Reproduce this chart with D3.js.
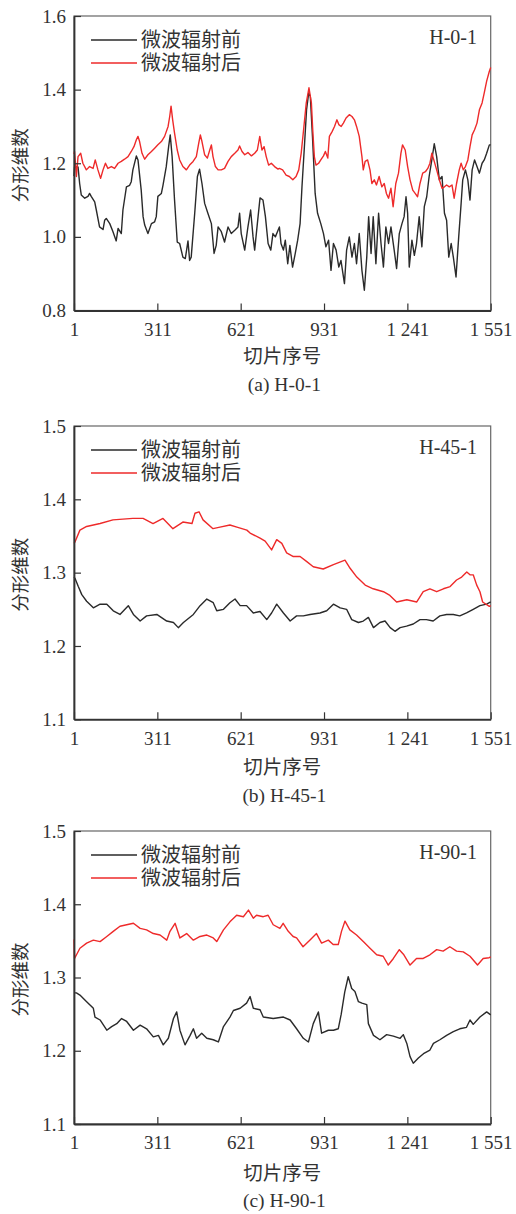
<!DOCTYPE html>
<html><head><meta charset="utf-8">
<script src="https://cdn.jsdelivr.net/npm/d3@7"></script>
<style>
html,body{margin:0;padding:0;background:#fff;}
svg{display:block;}
</style></head>
<body>
<svg id="chart" width="516" height="1214"></svg>
<script>
// ---------- data ----------
const seriesNames = ["微波辐射前", "微波辐射后"];
const xTickValues = [1, 311, 621, 931, 1241, 1551];
const xTickLabels = ["1", "311", "621", "931", "1 241", "1 551"];
const yTicksA = [0.8, 1.0, 1.2, 1.4, 1.6];
const yTicksBC = [1.1, 1.2, 1.3, 1.4, 1.5];
const panelLabels = ["H-0-1", "H-45-1", "H-90-1"];
const captions = ["(a) H-0-1", "(b) H-45-1", "(c) H-90-1"];

const h0Before = [[1,1.165],[3,1.19],[16,1.19],[22,1.145],[28,1.114],[41,1.105],[53,1.11],[59,1.118],[65,1.11],[78,1.095],[84,1.073],[96,1.027],[109,1.02],[115,1.045],[121,1.05],[134,1.036],[146,1.014],[158,0.989],[165,1.023],[177,1.009],[183,1.073],[196,1.136],[208,1.14],[214,1.15],[220,1.182],[233,1.22],[239,1.209],[251,1.127],[258,1.055],[264,1.032],[276,1.009],[289,1.036],[301,1.041],[307,1.055],[313,1.11],[326,1.118],[332,1.14],[344,1.19],[353,1.245],[359,1.277],[366,1.218],[375,1.1],[385,0.986],[394,0.982],[406,0.945],[415,0.941],[425,0.989],[431,0.936],[437,0.945],[450,1.064],[460,1.164],[468,1.184],[477,1.145],[487,1.091],[499,1.064],[512,1.036],[522,0.955],[530,0.977],[537,1.027],[549,1.014],[561,0.986],[574,1.027],[586,1.009],[599,1.018],[611,1.027],[617,1.064],[623,1.009],[636,0.964],[648,1.027],[658,1.073],[667,1.0],[673,0.964],[683,1.036],[693,1.106],[704,1.1],[713,1.055],[723,0.982],[733,0.964],[741,1.009],[750,1.0],[760,1.018],[765,1.027],[771,0.982],[780,0.964],[787,0.991],[796,0.927],[804,0.977],[814,0.918],[824,0.955],[833,0.991],[842,1.036],[849,1.136],[858,1.245],[866,1.345],[874,1.391],[880,1.382],[888,1.273],[898,1.118],[907,1.064],[919,1.036],[929,1.009],[938,0.973],[948,0.991],[957,0.909],[966,0.982],[976,0.964],[986,0.918],[994,0.936],[1007,0.873],[1015,0.964],[1025,1.0],[1035,0.945],[1044,0.982],[1052,0.927],[1062,1.009],[1072,0.909],[1081,0.855],[1090,0.945],[1097,1.055],[1106,0.955],[1114,1.055],[1124,0.927],[1134,1.064],[1143,0.982],[1152,0.918],[1161,1.027],[1171,0.982],[1180,1.027],[1192,0.964],[1201,0.914],[1211,1.009],[1221,1.036],[1229,1.055],[1236,1.109],[1242,1.064],[1248,0.918],[1258,0.991],[1267,0.95],[1275,0.982],[1285,1.055],[1295,0.973],[1304,1.082],[1313,1.109],[1322,1.164],[1332,1.209],[1341,1.253],[1350,1.218],[1360,1.155],[1370,1.164],[1379,1.064],[1387,1.045],[1395,0.945],[1404,0.982],[1412,0.945],[1422,0.891],[1432,1.0],[1441,1.091],[1447,1.155],[1457,1.182],[1466,1.155],[1474,1.1],[1482,1.182],[1491,1.209],[1500,1.191],[1509,1.173],[1519,1.2],[1527,1.209],[1536,1.227],[1546,1.25],[1551,1.25]];

const h0After = [[1,1.225],[3,1.232],[10,1.164],[16,1.218],[26,1.227],[34,1.2],[47,1.182],[59,1.191],[72,1.186],[80,1.209],[90,1.182],[100,1.159],[109,1.182],[118,1.2],[127,1.186],[140,1.191],[152,1.186],[165,1.2],[177,1.205],[189,1.211],[202,1.218],[214,1.232],[224,1.245],[233,1.264],[239,1.273],[245,1.259],[254,1.227],[264,1.211],[276,1.223],[289,1.232],[301,1.241],[313,1.25],[326,1.259],[338,1.273],[351,1.3],[357,1.327],[362,1.355],[368,1.318],[375,1.282],[385,1.236],[394,1.209],[406,1.191],[419,1.182],[431,1.195],[444,1.205],[456,1.218],[465,1.255],[471,1.277],[477,1.259],[487,1.223],[497,1.214],[506,1.236],[512,1.25],[518,1.218],[527,1.191],[537,1.182],[549,1.182],[561,1.186],[574,1.205],[586,1.218],[599,1.227],[611,1.236],[617,1.247],[626,1.232],[636,1.223],[648,1.229],[661,1.22],[673,1.227],[683,1.236],[692,1.273],[700,1.236],[708,1.245],[716,1.218],[725,1.195],[735,1.2],[747,1.191],[760,1.184],[765,1.186],[777,1.182],[790,1.168],[802,1.164],[815,1.155],[827,1.164],[837,1.182],[846,1.227],[855,1.291],[865,1.364],[875,1.405],[884,1.364],[889,1.291],[895,1.218],[901,1.195],[911,1.2],[919,1.209],[929,1.22],[936,1.232],[945,1.214],[951,1.273],[961,1.286],[970,1.3],[979,1.318],[986,1.305],[995,1.3],[1003,1.309],[1013,1.323],[1025,1.332],[1035,1.327],[1044,1.318],[1052,1.3],[1062,1.273],[1072,1.218],[1077,1.182],[1084,1.205],[1093,1.209],[1102,1.182],[1109,1.145],[1118,1.155],[1126,1.141],[1136,1.164],[1146,1.136],[1155,1.145],[1163,1.118],[1171,1.105],[1180,1.132],[1188,1.082],[1198,1.145],[1208,1.173],[1217,1.227],[1223,1.25],[1233,1.236],[1242,1.191],[1251,1.155],[1261,1.127],[1270,1.118],[1279,1.109],[1288,1.145],[1298,1.173],[1308,1.177],[1317,1.186],[1325,1.2],[1332,1.227],[1341,1.205],[1350,1.182],[1360,1.155],[1370,1.132],[1379,1.136],[1387,1.141],[1397,1.136],[1407,1.141],[1415,1.105],[1424,1.145],[1434,1.182],[1441,1.2],[1449,1.182],[1457,1.191],[1466,1.209],[1474,1.245],[1482,1.277],[1491,1.291],[1500,1.309],[1509,1.345],[1519,1.364],[1527,1.391],[1536,1.423],[1546,1.45],[1551,1.46]];

const h45Before = [[1,1.294],[5,1.292],[17,1.281],[30,1.27],[48,1.261],[73,1.252],[98,1.257],[123,1.257],[147,1.248],[172,1.243],[203,1.255],[222,1.243],[247,1.234],[271,1.241],[309,1.243],[346,1.234],[371,1.232],[389,1.225],[408,1.232],[445,1.243],[470,1.255],[495,1.264],[519,1.259],[532,1.248],[557,1.25],[581,1.259],[600,1.264],[619,1.255],[643,1.255],[668,1.245],[693,1.247],[718,1.236],[736,1.245],[755,1.257],[780,1.245],[805,1.234],[829,1.241],[854,1.241],[879,1.243],[916,1.245],[941,1.248],[966,1.257],[991,1.252],[1015,1.25],[1034,1.236],[1059,1.232],[1077,1.234],[1096,1.239],[1115,1.225],[1139,1.232],[1158,1.234],[1177,1.225],[1195,1.22],[1214,1.225],[1238,1.227],[1263,1.23],[1288,1.236],[1312,1.236],[1337,1.234],[1362,1.241],[1387,1.243],[1412,1.243],[1436,1.241],[1461,1.245],[1486,1.25],[1511,1.255],[1536,1.257],[1551,1.26]];

const h45After = [[1,1.34],[5,1.342],[23,1.358],[48,1.363],[98,1.367],[146,1.372],[220,1.374],[258,1.374],[295,1.367],[332,1.374],[369,1.36],[406,1.369],[440,1.367],[451,1.381],[466,1.383],[481,1.372],[518,1.36],[544,1.362],[581,1.365],[607,1.362],[644,1.358],[656,1.354],[693,1.347],[712,1.343],[736,1.331],[755,1.345],[774,1.34],[792,1.327],[817,1.322],[842,1.322],[867,1.315],[891,1.308],[928,1.305],[966,1.311],[1009,1.317],[1028,1.306],[1053,1.294],[1084,1.283],[1114,1.278],[1152,1.274],[1176,1.269],[1201,1.26],[1239,1.263],[1276,1.26],[1300,1.274],[1325,1.278],[1350,1.274],[1375,1.278],[1400,1.281],[1424,1.29],[1443,1.294],[1462,1.301],[1474,1.297],[1486,1.297],[1499,1.283],[1511,1.274],[1521,1.26],[1546,1.254],[1551,1.255]];

const h90Before = [[1,1.279],[10,1.279],[23,1.276],[48,1.267],[73,1.258],[79,1.246],[98,1.242],[123,1.228],[141,1.233],[160,1.237],[178,1.244],[197,1.24],[222,1.228],[247,1.235],[271,1.23],[296,1.219],[315,1.221],[333,1.208],[352,1.217],[371,1.244],[383,1.253],[395,1.228],[414,1.208],[433,1.221],[445,1.23],[457,1.217],[476,1.224],[495,1.217],[519,1.215],[538,1.212],[557,1.233],[581,1.246],[594,1.255],[619,1.258],[643,1.265],[656,1.274],[668,1.258],[693,1.256],[705,1.246],[742,1.244],[780,1.246],[805,1.242],[829,1.23],[854,1.217],[873,1.212],[891,1.237],[910,1.253],[922,1.224],[947,1.228],[966,1.228],[984,1.23],[995,1.25],[1008,1.28],[1021,1.301],[1034,1.285],[1046,1.281],[1059,1.267],[1072,1.265],[1090,1.263],[1096,1.237],[1115,1.221],[1139,1.215],[1164,1.222],[1189,1.22],[1214,1.217],[1226,1.222],[1239,1.21],[1251,1.192],[1263,1.183],[1282,1.19],[1301,1.196],[1325,1.201],[1338,1.21],[1362,1.215],[1387,1.221],[1412,1.226],[1436,1.23],[1461,1.232],[1474,1.242],[1486,1.236],[1511,1.246],[1536,1.253],[1551,1.249]];

const h90After = [[1,1.352],[3,1.326],[23,1.34],[48,1.347],[73,1.351],[98,1.349],[123,1.356],[147,1.363],[172,1.37],[197,1.372],[222,1.374],[247,1.367],[271,1.365],[296,1.36],[321,1.358],[346,1.351],[358,1.363],[377,1.374],[395,1.354],[420,1.36],[445,1.351],[470,1.356],[495,1.358],[519,1.354],[532,1.349],[557,1.365],[581,1.376],[606,1.385],[631,1.383],[650,1.392],[668,1.381],[680,1.385],[705,1.383],[723,1.385],[742,1.372],[767,1.367],[779,1.374],[798,1.363],[816,1.356],[829,1.354],[853,1.342],[878,1.351],[903,1.36],[922,1.347],[947,1.351],[965,1.345],[984,1.345],[996,1.363],[1009,1.377],[1027,1.365],[1052,1.358],[1077,1.349],[1102,1.34],[1127,1.331],[1151,1.329],[1170,1.317],[1189,1.326],[1211,1.338],[1228,1.331],[1251,1.317],[1275,1.326],[1300,1.326],[1325,1.331],[1350,1.338],[1374,1.336],[1399,1.342],[1424,1.336],[1449,1.335],[1474,1.329],[1502,1.317],[1523,1.326],[1545,1.327],[1551,1.328]];

// ---------- layout ----------
const colors = ["#2a2a2a", "#ee2a2a"];
const serif = "'Liberation Serif','Times New Roman',serif";
const cjk = "'Noto Sans CJK SC','Noto Sans CJK JP',sans-serif";
const left = 74, right = 490.7;

const panels = [
  {top: 16, bottom: 310.5, yDomain: [0.8, 1.6], yTicks: yTicksA, fmt: d3.format(".1f"), before: h0Before, after: h0After, label: panelLabels[0], caption: captions[0], titleY: 363, captionY: 391, legendY: 40},
  {top: 426, bottom: 719.3, yDomain: [1.1, 1.5], yTicks: yTicksBC, fmt: d3.format(".1f"), before: h45Before, after: h45After, label: panelLabels[1], caption: captions[1], titleY: 774, captionY: 802, legendY: 450},
  {top: 831, bottom: 1124, yDomain: [1.1, 1.5], yTicks: yTicksBC, fmt: d3.format(".1f"), before: h90Before, after: h90After, label: panelLabels[2], caption: captions[2], titleY: 1180, captionY: 1207, legendY: 855}
];

const svg = d3.select("#chart");
const x = d3.scaleLinear().domain([1, 1551]).range([left, right]);

panels.forEach(p => {
  const y = d3.scaleLinear().domain(p.yDomain).range([p.bottom, p.top]);
  const g = svg.append("g");

  // frame
  g.append("rect").attr("x", left).attr("y", p.top)
    .attr("width", right - left).attr("height", p.bottom - p.top)
    .attr("fill", "none").attr("stroke", "#666").attr("stroke-width", 1.2);

  const line = d3.line().x(d => x(d[0])).y(d => y(d[1]));
  g.append("path").datum(p.before).attr("d", line)
    .attr("fill", "none").attr("stroke", colors[0]).attr("stroke-width", 1.4).attr("stroke-linejoin", "round");
  g.append("path").datum(p.after).attr("d", line)
    .attr("fill", "none").attr("stroke", colors[1]).attr("stroke-width", 1.4).attr("stroke-linejoin", "round");

  // y axis
  const ya = g.append("g").attr("transform", `translate(${left},0)`)
    .call(d3.axisLeft(y).tickValues(p.yTicks).tickFormat(p.fmt).tickSizeInner(-7).tickSizeOuter(0).tickPadding(8));
  ya.select(".domain").attr("stroke", "#333").attr("stroke-width", 1.8);
  ya.selectAll(".tick line").attr("stroke", "#333").attr("stroke-width", 1.2);
  ya.selectAll(".tick text").attr("font-family", serif).attr("font-size", 19).attr("fill", "#333");

  // x axis
  const xa = g.append("g").attr("transform", `translate(0,${p.bottom})`)
    .call(d3.axisBottom(x).tickValues(xTickValues).tickFormat((d, i) => xTickLabels[i]).tickSizeInner(-7).tickSizeOuter(0).tickPadding(12));
  xa.select(".domain").attr("stroke", "#333").attr("stroke-width", 1.8);
  xa.selectAll(".tick line").attr("stroke", "#333").attr("stroke-width", 1.2);
  xa.selectAll(".tick text").attr("font-family", serif).attr("font-size", 19).attr("fill", "#333");

  // axis titles
  g.append("text").attr("x", (left + right) / 2).attr("y", p.titleY)
    .attr("text-anchor", "middle").attr("font-family", cjk).attr("font-size", 19.5).attr("fill", "#333")
    .text("切片序号");
  g.append("text").attr("transform", `translate(27,${(p.top + p.bottom) / 2 + 2}) rotate(-90)`)
    .attr("text-anchor", "middle").attr("font-family", cjk).attr("font-size", 18.5).attr("fill", "#333")
    .text("分形维数");
  g.append("text").attr("x", (left + right) / 2 + 2).attr("y", p.captionY)
    .attr("text-anchor", "middle").attr("font-family", serif).attr("font-size", 19.5).attr("fill", "#333")
    .text(p.caption);

  // panel label
  g.append("text").attr("x", 477).attr("y", p.top + 27.5)
    .attr("text-anchor", "end").attr("font-family", serif).attr("font-size", 20).attr("fill", "#333")
    .text(p.label);

  // legend: swatches + one text block with a line per series
  seriesNames.forEach((name, i) => {
    const ly = p.legendY + i * 23;
    g.append("line").attr("x1", 91).attr("x2", 137).attr("y1", ly).attr("y2", ly)
      .attr("stroke", colors[i]).attr("stroke-width", 1.4);
  });
  const lt = g.append("text").attr("font-family", cjk).attr("font-size", 20).attr("fill", "#333");
  seriesNames.forEach((name, i) => {
    lt.append("tspan").attr("x", 141).attr("y", p.legendY + i * 23 + 7).text(name);
  });
});
</script>
</body></html>
